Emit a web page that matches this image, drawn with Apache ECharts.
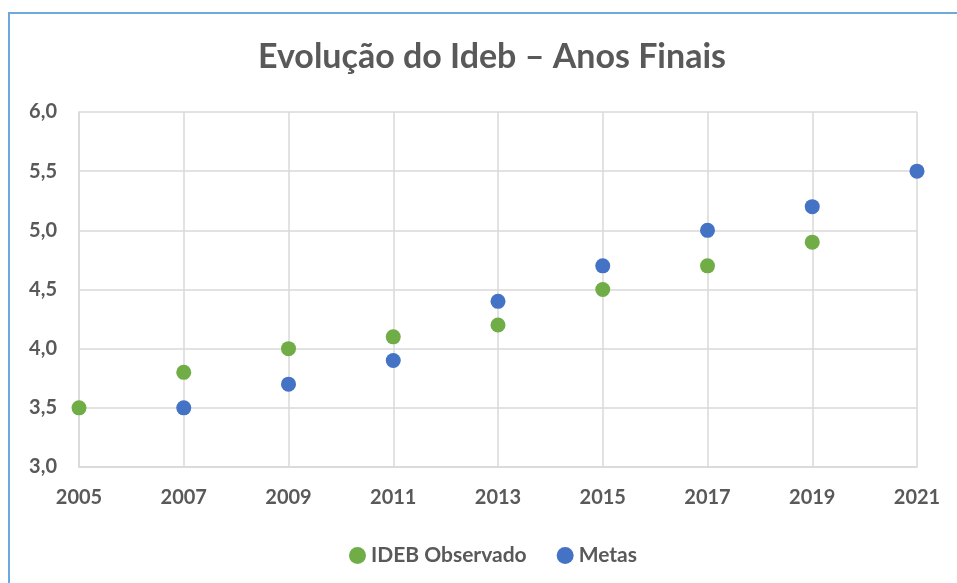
<!DOCTYPE html>
<html><head><meta charset="utf-8">
<script src="https://cdn.jsdelivr.net/npm/echarts@6/dist/echarts.min.js"></script>
<style>
html,body{margin:0;padding:0;background:#fff;}
#frame{position:absolute;left:8px;top:12px;width:1000px;height:700px;border-left:2px solid #6FA8DC;border-top:2px solid #6FA8DC;box-sizing:border-box;}
#chart{position:absolute;left:0;top:0;width:957px;height:583px;}
</style></head>
<body>
<div id="frame"></div>
<div id="chart"></div>
<script>
const title = 'Evolução do Ideb – Anos Finais';
const seriesNames = ['IDEB Observado', 'Metas'];
const observadoYears = [2005, 2007, 2009, 2011, 2013, 2015, 2017, 2019];
const observadoValues = [3.5, 3.8, 4.0, 4.1, 4.2, 4.5, 4.7, 4.9];
const metasYears = [2007, 2009, 2011, 2013, 2015, 2017, 2019, 2021];
const metasValues = [3.5, 3.7, 3.9, 4.4, 4.7, 5.0, 5.2, 5.5];

const font = 'Lato, "Open Sans", sans-serif';
const textColor = '#595959';
const chart = echarts.init(document.getElementById('chart'), null, {renderer: 'canvas'});
chart.setOption({
  backgroundColor: 'transparent',
  animation: false,
  title: {
    text: title, left: 253, top: 35,
    textStyle: {fontFamily: font, fontSize: 34, fontWeight: 'bold', color: textColor}
  },
  legend: {
    data: seriesNames, top: 540, left: 344, itemGap: 30, itemWidth: 17, itemHeight: 17,
    icon: 'circle', itemStyle: {borderWidth: 0},
    textStyle: {fontFamily: font, fontSize: 21, fontWeight: 'bold', color: textColor}
  },
  grid: {left: 79, right: 40, top: 112, bottom: 116},
  xAxis: {
    type: 'value', min: 2005, max: 2021, interval: 2,
    axisLine: {show: true, lineStyle: {color: '#d9d9d9', width: 1.5}},
    axisTick: {show: false},
    splitLine: {show: true, lineStyle: {color: '#d9d9d9', width: 1.5}},
    axisLabel: {fontFamily: font, fontSize: 20, fontWeight: 'bold', color: textColor, margin: 21, formatter: v => String(v)}
  },
  yAxis: {
    type: 'value', min: 3, max: 6, interval: 0.5,
    axisLine: {show: true, lineStyle: {color: '#d9d9d9', width: 1.5}},
    axisTick: {show: false},
    splitLine: {show: true, lineStyle: {color: '#d9d9d9', width: 1.5}},
    axisLabel: {fontFamily: font, fontSize: 20, fontWeight: 'bold', color: textColor, margin: 22,
      formatter: v => v.toFixed(1).replace('.', ',')}
  },
  series: [
    {name: seriesNames[0], type: 'scatter', symbolSize: 15, itemStyle: {color: '#70AD47', opacity: 1},
     data: observadoYears.map((y, i) => [y, observadoValues[i]])},
    {name: seriesNames[1], type: 'scatter', symbolSize: 15, itemStyle: {color: '#4472C4', opacity: 1},
     data: metasYears.map((y, i) => [y, metasValues[i]])}
  ]
});
</script>
</body></html>
